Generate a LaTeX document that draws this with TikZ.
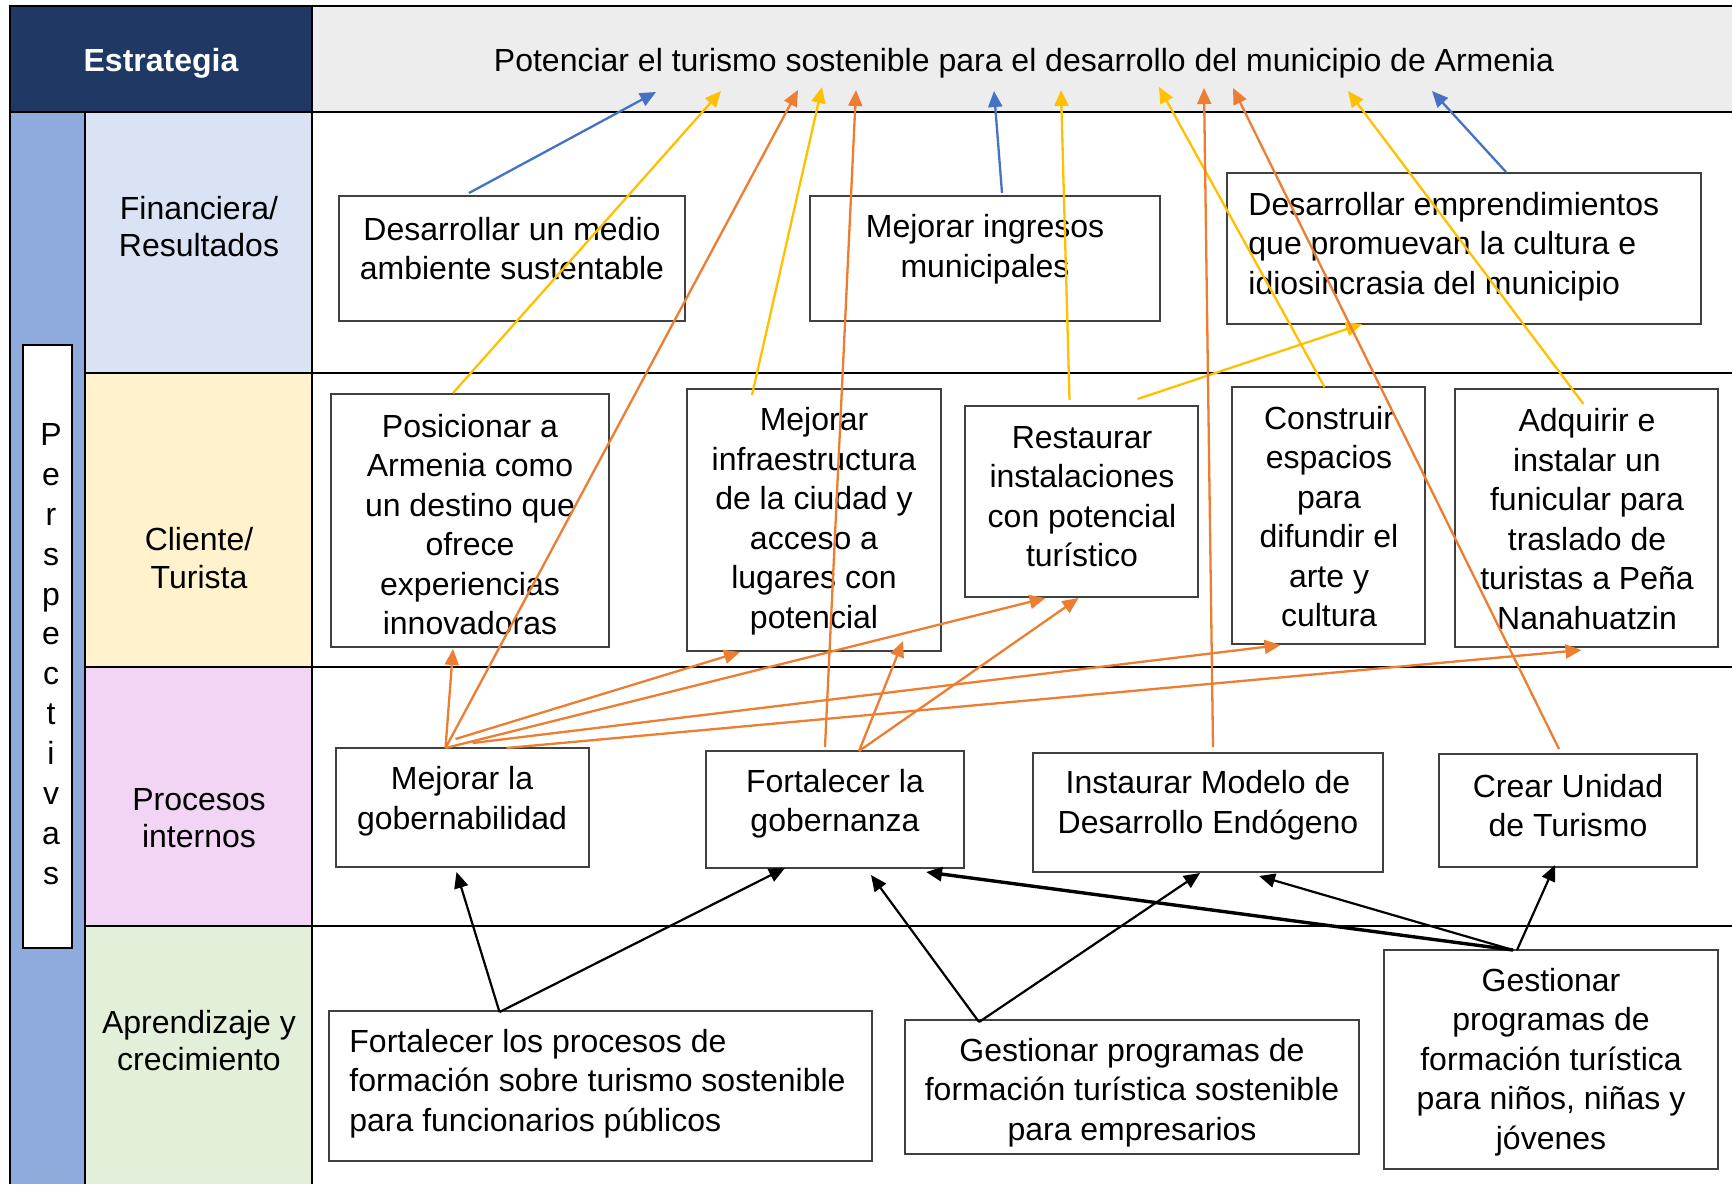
\documentclass[tikz,border=0pt]{standalone}
\usepackage{fontspec}
\setmainfont{Liberation Sans}
\usetikzlibrary{arrows.meta,fit}
\definecolor{navyhead}{HTML}{203864}
\definecolor{grayhead}{HTML}{EDEDED}
\definecolor{bluecol}{HTML}{8FAADC}
\definecolor{finfill}{HTML}{DAE3F3}
\definecolor{clifill}{HTML}{FFF2CC}
\definecolor{profill}{HTML}{F2D5F4}
\definecolor{aprfill}{HTML}{E2F0D9}
\definecolor{arrblue}{HTML}{4472C4}
\definecolor{arryel}{HTML}{FFC000}
\definecolor{arrora}{HTML}{ED7D31}
\newcommand\myfnt{\fontsize{16pt}{19.75pt}\selectfont}
\newcommand\catfnt{\fontsize{16pt}{18.75pt}\selectfont}
\begin{document}
\begin{tikzpicture}[x=0.5pt,y=-0.5pt,
  tline/.style={line width=1.1pt, black},
  box/.style={draw=black!75, line width=0.7pt, fill=white, inner sep=0pt, outer sep=0pt},
  txt/.style={font=\myfnt, align=center, inner sep=0pt},
  ltxt/.style={font=\myfnt, align=left, inner sep=0pt, anchor=west},
  cat/.style={font=\catfnt, align=center, inner sep=0pt},
  tip/.style={-{Triangle[length=8pt,width=7pt]}},
  ab/.style={tip, draw=arrblue, fill=arrblue, line width=1.15pt},
  ay/.style={tip, draw=arryel, fill=arryel, line width=1.15pt},
  ao/.style={tip, draw=arrora, fill=arrora, line width=1.15pt},
  ak/.style={tip, draw=black, fill=black, line width=1.1pt}]
\useasboundingbox (0,0) rectangle (1732,1184);
% fills
\fill[navyhead] (10,6) rectangle (312,112);
\fill[grayhead] (312,6) rectangle (1732,112);
\fill[bluecol] (10,112) rectangle (85,1184);
\fill[finfill] (85,112) rectangle (312,373);
\fill[clifill] (85,373) rectangle (312,667);
\fill[profill] (85,667) rectangle (312,926);
\fill[aprfill] (85,926) rectangle (312,1184);
% table lines
\draw[tline] (10,1184) -- (10,6) -- (1732,6);
\draw[tline] (10,112) -- (1732,112);
\draw[tline] (85,373) -- (1732,373);
\draw[tline] (85,667) -- (1732,667);
\draw[tline] (85,926) -- (1732,926);
\draw[tline] (85,112) -- (85,1184);
\draw[tline] (312,6) -- (312,1184);
% header texts
\node[txt, text=white, font=\myfnt\bfseries] (est) at (161,63.5) {Estrategia};
\node[txt] (head) at (1024,63.5) {Potenciar el turismo sostenible para el desarrollo del municipio de Armenia};
% perspectivas
\node[box, draw=black, fit={(23,345) (72,948)}] (persp) {};
\node[font=\fontsize{16pt}{19.95pt}\selectfont, align=center, inner sep=0pt] at (51,654) {P\\e\\r\\s\\p\\e\\c\\t\\i\\v\\a\\s};
% categories
\node[cat] (fin) at (199,226.5) {Financiera/\\Resultados};
\node[cat] (cli) at (199,558) {Cliente/\\Turista};
\node[cat] (pro) at (199,818) {Procesos\\internos};
\node[cat] (apr) at (199,1040.5) {Aprendizaje y\\crecimiento};
% boxes
\node[box, fit={(339,196) (685,321)}] (B1) {};
\node[box, fit={(810,196) (1160,321)}] (B2) {};
\node[box, fit={(1227,173) (1701,324)}] (B3) {};
\node[box, fit={(331,394) (609,647)}] (C1) {};
\node[box, fit={(687,389) (941,651)}] (C2) {};
\node[box, fit={(965,406) (1198,597)}] (C3) {};
\node[box, fit={(1232,387) (1425,644)}] (C4) {};
\node[box, fit={(1455,389) (1718,647)}] (C5) {};
\node[box, fit={(336,748) (589,867)}] (P1) {};
\node[box, fit={(706,751) (964,868)}] (P2) {};
\node[box, fit={(1033,753) (1383,872)}] (P3) {};
\node[box, fit={(1439,754) (1697,867)}] (P4) {};
\node[box, fit={(329,1011) (872,1161)}] (A1) {};
\node[box, fit={(905,1020) (1359,1154)}] (A2) {};
\node[box, fit={(1384,950) (1718,1169)}] (A3) {};
% box texts
\node[txt] (tB1) at (512,248.5) {Desarrollar un medio\\ambiente sustentable};
\node[txt] (tB2) at (985,249) {Mejorar ingresos\\municipales};
\node[ltxt] (tB3) at (1248,246.5) {Desarrollar emprendimientos\\que promuevan la cultura e\\idiosincrasia del municipio};
\node[txt] (tC1) at (470,524.5) {Posicionar a\\Armenia como\\un destino que\\ofrece\\experiencias\\innovadoras};
\node[txt] (tC2) at (814,521) {Mejorar\\infraestructura\\de la ciudad y\\acceso a\\lugares con\\potencial};
\node[txt] (tC3) at (1082,496.5) {Restaurar\\instalaciones\\con potencial\\turístico};
\node[txt] (tC4) at (1329,516.5) {Construir\\espacios\\para\\difundir el\\arte y\\cultura};
\node[txt] (tC5) at (1587,519) {Adquirir e\\instalar un\\funicular para\\traslado de\\turistas a Peña\\Nanahuatzin};
\node[txt] (tP1) at (462,801) {Mejorar la\\gobernabilidad};
\node[txt] (tP2) at (835,803.5) {Fortalecer la\\gobernanza};
\node[txt] (tP3) at (1208,805) {Instaurar Modelo de\\Desarrollo Endógeno};
\node[txt] (tP4) at (1568,805.5) {Crear Unidad\\de Turismo};
\node[ltxt] (tA1) at (349,1083.5) {Fortalecer los procesos de\\formación sobre turismo sostenible\\para funcionarios públicos};
\node[txt] (tA2) at (1132,1092.5) {Gestionar programas de\\formación turística sostenible\\para empresarios};
\node[txt] (tA3) at (1551,1062) {Gestionar\\programas de\\formación turística\\para niños, niñas y\\jóvenes};
% header targets
\coordinate (h1) at (656,92);
\coordinate (h2) at (994,91);
\coordinate (h3) at (1432,91);
\coordinate (y1) at (721,91);
\coordinate (y2) at (822,87);
\coordinate (y3) at (1061,90);
\coordinate (y4) at (1159,87);
\coordinate (y5) at (1348,91);
\coordinate (o1) at (798,90);
\coordinate (o2) at (856,90);
\coordinate (o3) at (1204,88);
\coordinate (o4) at (1233,88);
% blue arrows
\draw[ab] ([shift={(-43,-3)}]B1.north) -- (h1);
\draw[ab] ([shift={(17,-3)}]B2.north) -- (h2);
\draw[ab] ([shift={(42,-1)}]B3.north) -- (h3);
% yellow arrows
\draw[ay] ([shift={(-17,-1)}]C1.north) -- (y1);
\draw[ay] ([shift={(-62,6)}]C2.north) -- (y2);
\draw[ay] ([shift={(-12,-6)}]C3.north) -- (y3);
\draw[ay] ([shift={(-4,0)}]C4.north) -- (y4);
\draw[ay] ([shift={(-3,15)}]C5.north) -- (y5);
\draw[ay] ([shift={(56,-7)}]C3.north) -- ([shift={(-102,0)}]B3.south);
% orange arrows
\draw[ao] ([shift={(-17,0)}]P1.north) -- (o1);
\draw[ao] ([shift={(-17,0)}]P1.north) -- ([shift={(-17,2)}]C1.south);
\draw[ao] ([shift={(-7,-9)}]P1.north) -- ([shift={(-74,1)}]C2.south);
\draw[ao] ([shift={(-17,0)}]P1.north) -- ([shift={(-36,1)}]C3.south);
\draw[ao] ([shift={(10,-5)}]P1.north) -- ([shift={(-48,1)}]C4.south);
\draw[ao] ([shift={(44,0)}]P1.north) -- ([shift={(-5,3)}]C5.south);
\draw[ao] ([shift={(-10,-4)}]P2.north) -- (o2);
\draw[ao] ([shift={(24,0)}]P2.north) -- ([shift={(89,-10)}]C2.south);
\draw[ao] ([shift={(24,0)}]P2.north) -- ([shift={(-3,1)}]C3.south);
\draw[ao] ([shift={(5,-6)}]P3.north) -- (o3);
\draw[ao] ([shift={(-9,-5)}]P4.north) -- (o4);
% black arrows
\draw[ak] ([shift={(-101,1)}]A1.north) -- ([shift={(-6,5)}]P1.south);
\draw[ak] ([shift={(-101,1)}]A1.north) -- ([shift={(-50,0)}]P2.south);
\draw[ak] ([shift={(-153,2)}]A2.north) -- ([shift={(36,7)}]P2.south);
\draw[ak] ([shift={(-153,2)}]A2.north) -- ([shift={(-8,1)}]P3.south);
\draw[ak, line width=1.7pt] ([shift={(-38,0)}]A3.north) -- ([shift={(91,4)}]P2.south);
\draw[ak] ([shift={(-38,0)}]A3.north) -- ([shift={(51,4)}]P3.south);
\draw[ak] ([shift={(-34,0)}]A3.north) -- ([shift={(-13,-2)}]P4.south);
\end{tikzpicture}
\end{document}
